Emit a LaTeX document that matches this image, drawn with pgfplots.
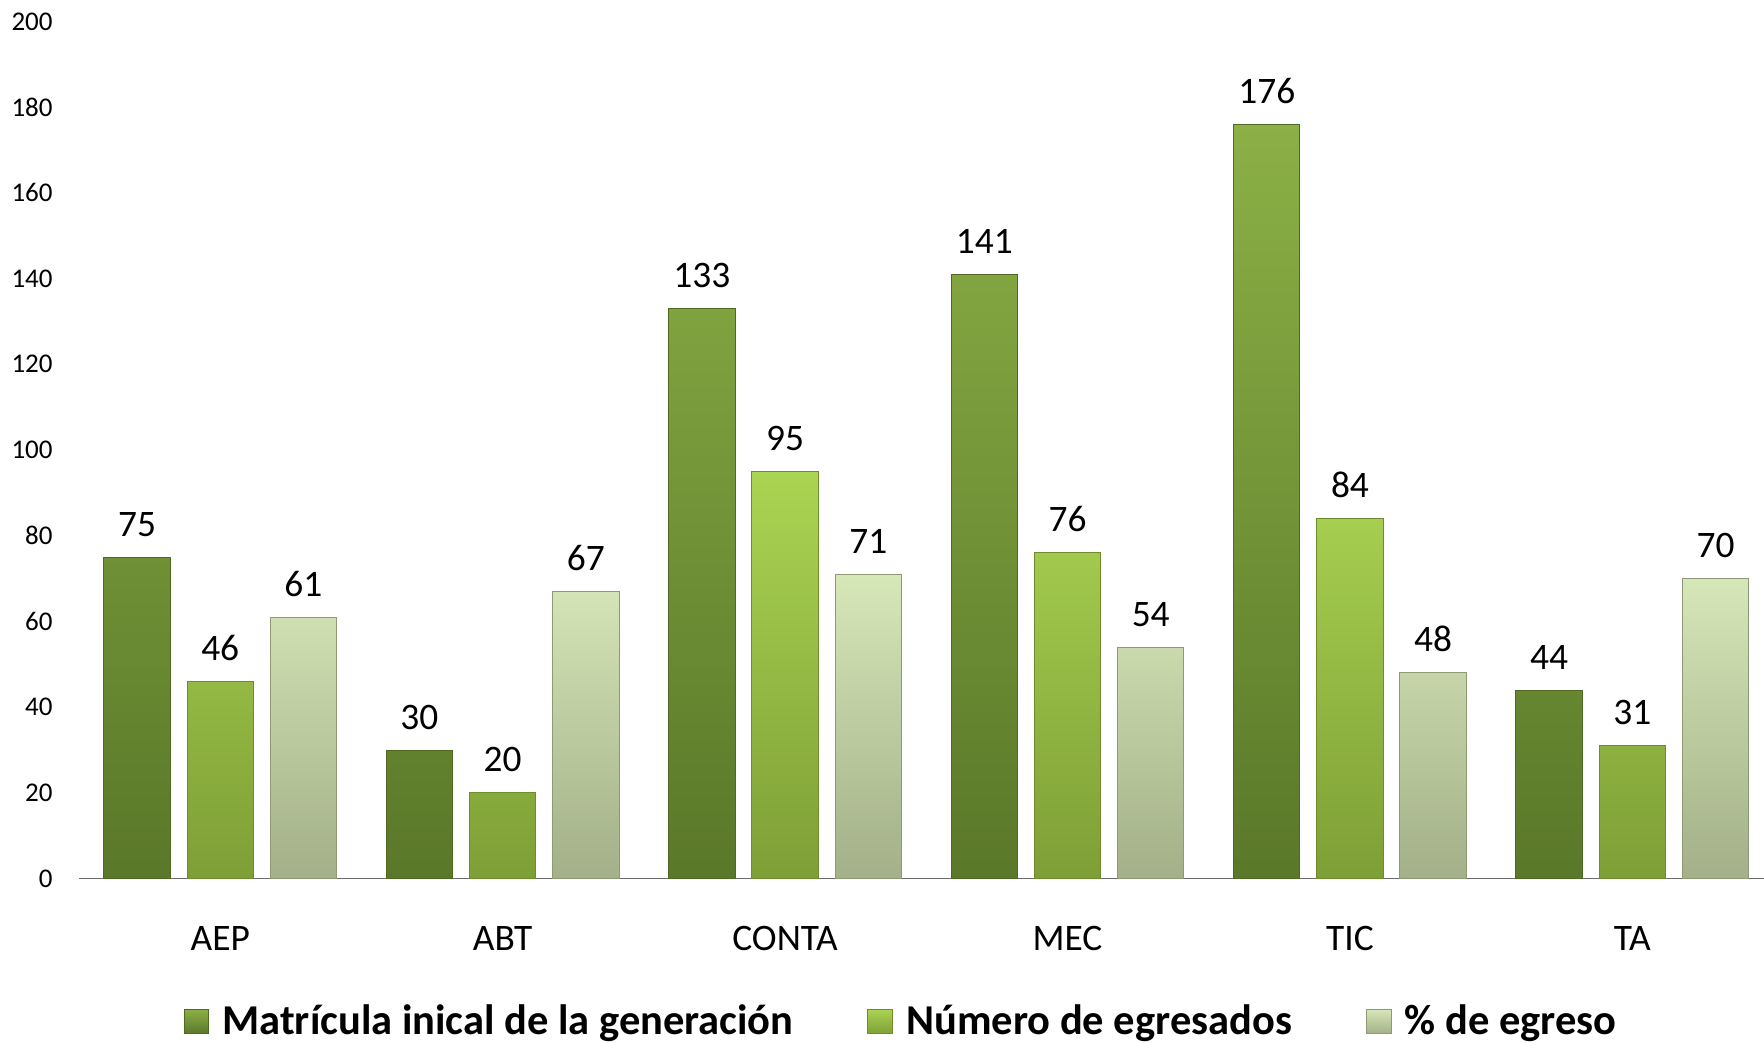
\documentclass[border=0pt]{standalone}
\usepackage{fontspec}
\setmainfont{Carlito}
\usepackage{pgfplots}
\pgfplotsset{compat=1.18}
\definecolor{gAtop}{HTML}{8CB046}
\definecolor{gAbot}{HTML}{5A7829}
\definecolor{gAedge}{HTML}{4E6A22}
\definecolor{gBtop}{HTML}{ABD452}
\definecolor{gBbot}{HTML}{7E9F36}
\definecolor{gBedge}{HTML}{6E8C2E}
\definecolor{gCtop}{HTML}{D6E7B8}
\definecolor{gCbot}{HTML}{A3B088}
\definecolor{gCedge}{HTML}{8E9A76}
\begin{document}
\begin{tikzpicture}
\begin{axis}[
  scale only axis,
  width=842.5pt, height=428.6pt,
  ymin=0, ymax=200,
  xmin=-0.5, xmax=5.466,
  ytick={0,20,...,200},
  xtick={0,...,5},
  xticklabels={AEP,ABT,CONTA,MEC,TIC,TA},
  axis y line*=left,
  axis x line*=bottom,
  y axis line style={draw=none},
  x axis line style={draw=gray!85!black, line width=0.8pt, -},
  major tick length=0pt,
  tick style={draw=none},
  /pgf/number format/assume math mode=true,
  yticklabel style={font=\fontsize{13.5}{15}\selectfont, anchor=east, inner sep=0pt, xshift=-13pt},
  xticklabel style={font=\fontsize{18.7}{20}\selectfont, anchor=base, inner sep=0pt, yshift=-35.8pt},
  ybar=8.4pt,
  bar width=33.2pt,
  nodes near coords,
  every node near coord/.append style={font=\fontsize{18.7}{20}\selectfont, anchor=base, inner sep=0pt, yshift=10.5pt, text=black},
  legend style={at={(0.4885,-0.1668)}, anchor=center, draw=none, fill=none,
    font=\fontsize{21.25}{24}\selectfont\bfseries, legend columns=3,
    /tikz/every odd column/.append style={column sep=4.5pt},
    /tikz/every even column/.append style={column sep=35pt}},
  legend image code/.code={\path[#1] (0pt,-6.2pt) rectangle (12.4pt,6.2pt);},
  clip=false,
]
\addplot[top color=gAtop, bottom color=gAbot, draw=gAedge, line width=0.5pt]
  coordinates {(0,75) (1,30) (2,133) (3,141) (4,176) (5,44)};
\addplot[top color=gBtop, bottom color=gBbot, draw=gBedge, line width=0.5pt]
  coordinates {(0,46) (1,20) (2,95) (3,76) (4,84) (5,31)};
\addplot[top color=gCtop, bottom color=gCbot, draw=gCedge, line width=0.5pt]
  coordinates {(0,61) (1,67) (2,71) (3,54) (4,48) (5,70)};
\legend{Matrícula inical de la generación, Número de egresados, \% de egreso}
\coordinate (bl) at (rel axis cs:0,0);
\coordinate (tr) at (rel axis cs:1,1);
\end{axis}
\pgfresetboundingbox
\path ([xshift=-39.5pt,yshift=-82.2pt]bl) rectangle ([yshift=10.7pt]tr);
\end{tikzpicture}
\end{document}
